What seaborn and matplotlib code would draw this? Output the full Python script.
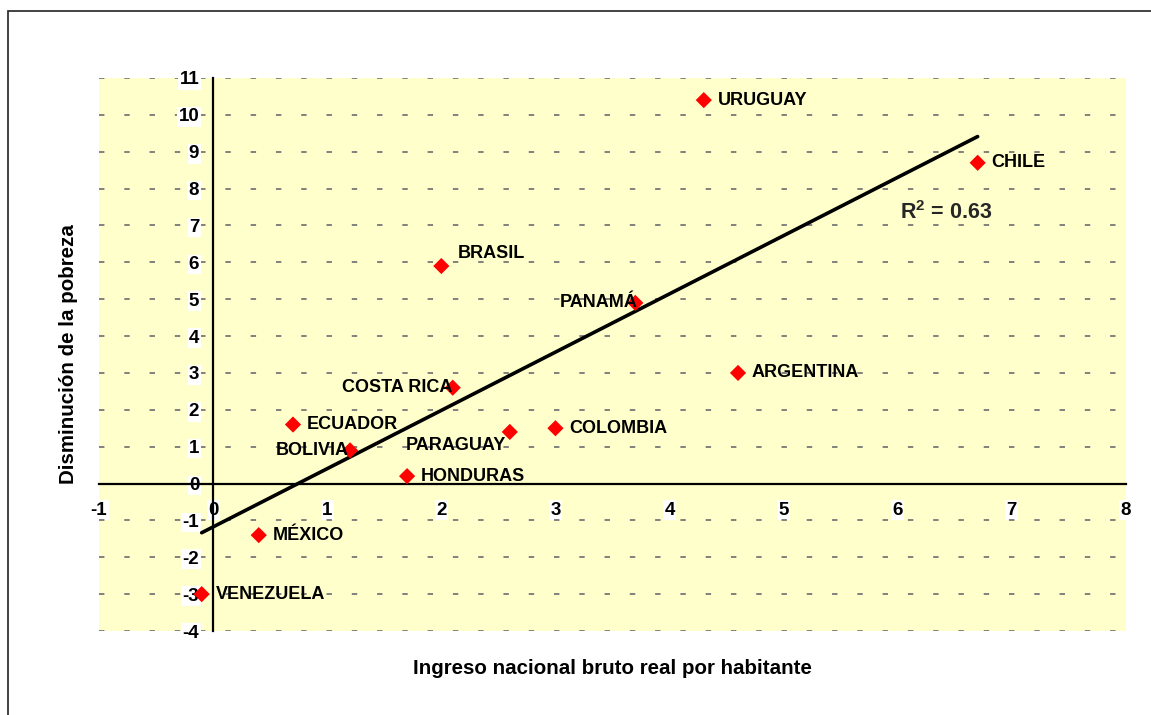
import numpy as np
import pandas as pd
import matplotlib
matplotlib.use('Agg')
import matplotlib.pyplot as plt
import matplotlib.patches as mpatches
from matplotlib.ticker import MultipleLocator
import seaborn as sns

# data
paises = ['URUGUAY', 'CHILE', 'BRASIL', 'PANAMÁ', 'ARGENTINA', 'COSTA RICA', 'ECUADOR',
          'BOLIVIA', 'PARAGUAY', 'COLOMBIA', 'HONDURAS', 'MÉXICO', 'VENEZUELA']
ingreso = [4.3, 6.7, 2.0, 3.7, 4.6, 2.1, 0.7, 1.2, 2.6, 3.0, 1.7, 0.4, -0.1]
pobreza = [10.4, 8.7, 5.9, 4.9, 3.0, 2.6, 1.6, 0.9, 1.4, 1.5, 0.2, -1.4, -3.0]
r2_text = 'R$^{2}$ = 0.63'

data = pd.DataFrame({'pais': paises, 'ingreso': ingreso, 'pobreza': pobreza})

# label placement: (dx px, dy px, ha)
label_pos = {
    'BRASIL': (16, 13, 'left'),
    'PANAMÁ': (2, 0, 'right'),
    'COSTA RICA': (0, 0, 'right'),
    'BOLIVIA': (-1, 0, 'right'),
    'PARAGUAY': (-4, -14, 'right'),
}

sns.set_style('white')
plt.rcParams['font.family'] = ['Liberation Sans', 'DejaVu Sans']
plt.rcParams['font.weight'] = 'bold'
plt.rcParams['axes.unicode_minus'] = False
plt.rcParams['mathtext.fontset'] = 'custom'
plt.rcParams['mathtext.rm'] = 'Liberation Sans:bold'
plt.rcParams['mathtext.bf'] = 'Liberation Sans:bold'
plt.rcParams['mathtext.default'] = 'rm'

fig = plt.figure(figsize=(11.51, 7.15), dpi=100)
ax = fig.add_axes([99 / 1151, 1 - 631 / 715, 1027 / 1151, 553 / 715])
ax.set_facecolor('#FFFFCC')

# outer chart border (only left/top edges visible)
fig.add_artist(mpatches.Rectangle((8 / 1151, -0.05), 1.2, 0.05 + 1 - 11 / 715,
                                  transform=fig.transFigure, fill=False,
                                  edgecolor='#222222', linewidth=1.2))

ax.set_xlim(-1, 8)
ax.set_ylim(-4, 11)

ax.yaxis.grid(True, color='#777777', linestyle=(0, (3, 11)), linewidth=1.3, zorder=0)
ax.set_axisbelow(True)

sns.regplot(data=data, x='ingreso', y='pobreza', scatter=False, ci=None, ax=ax,
            line_kws={'color': 'black', 'linewidth': 2.6, 'zorder': 3})
sns.scatterplot(data=data, x='ingreso', y='pobreza', marker='D', color='#FF0000',
                s=68, edgecolor='none', ax=ax, zorder=4)

for p, xv, yv in zip(paises, ingreso, pobreza):
    dx, dy, ha = label_pos.get(p, (14, 0, 'left'))
    ax.annotate(p, (xv, yv), xytext=(dx * 0.72, dy * 0.72), textcoords='offset points',
                ha=ha, va='center', fontsize=13, fontweight='bold', color='black', zorder=5)

ax.text(6.02, 7.35, r2_text, fontsize=15.5, fontweight='bold', ha='left', va='center', zorder=5)

# axes crossing at zero
for s in ['top', 'right']:
    ax.spines[s].set_visible(False)
ax.spines['left'].set_position(('data', 0))
ax.spines['bottom'].set_position(('data', 0))
for s in ['left', 'bottom']:
    ax.spines[s].set_linewidth(1.6)
    ax.spines[s].set_color('black')
    ax.spines[s].set_zorder(2)

ax.xaxis.set_major_locator(MultipleLocator(1))
ax.xaxis.set_minor_locator(MultipleLocator(0.5))
ax.yaxis.set_major_locator(MultipleLocator(1))
ax.yaxis.set_minor_locator(MultipleLocator(0.5))
ax.tick_params(axis='x', which='major', direction='out', length=5, width=1.4, pad=8,
               labelsize=13.5, labelcolor='black')
ax.tick_params(axis='x', which='minor', direction='out', length=5, width=1.4)
ax.tick_params(axis='y', which='major', direction='inout', length=8, width=1.4, pad=6,
               labelsize=13.5, labelcolor='black')
ax.tick_params(axis='y', which='minor', direction='out', length=4, width=1.4)

for lab in ax.get_xticklabels() + ax.get_yticklabels():
    lab.set_fontweight('bold')
    lab.set_bbox(dict(facecolor='white', edgecolor='none', pad=1))

ax.set_xlabel('Ingreso nacional bruto real por habitante', fontsize=14.8, fontweight='bold',
              color='black')
ax.set_ylabel('Disminución de la pobreza', fontsize=14.8, fontweight='bold', color='black')
ax.xaxis.set_label_coords(0.5, -0.05)
ax.yaxis.set_label_coords(-0.02, 0.5)

fig.savefig('out.png', dpi=100)
